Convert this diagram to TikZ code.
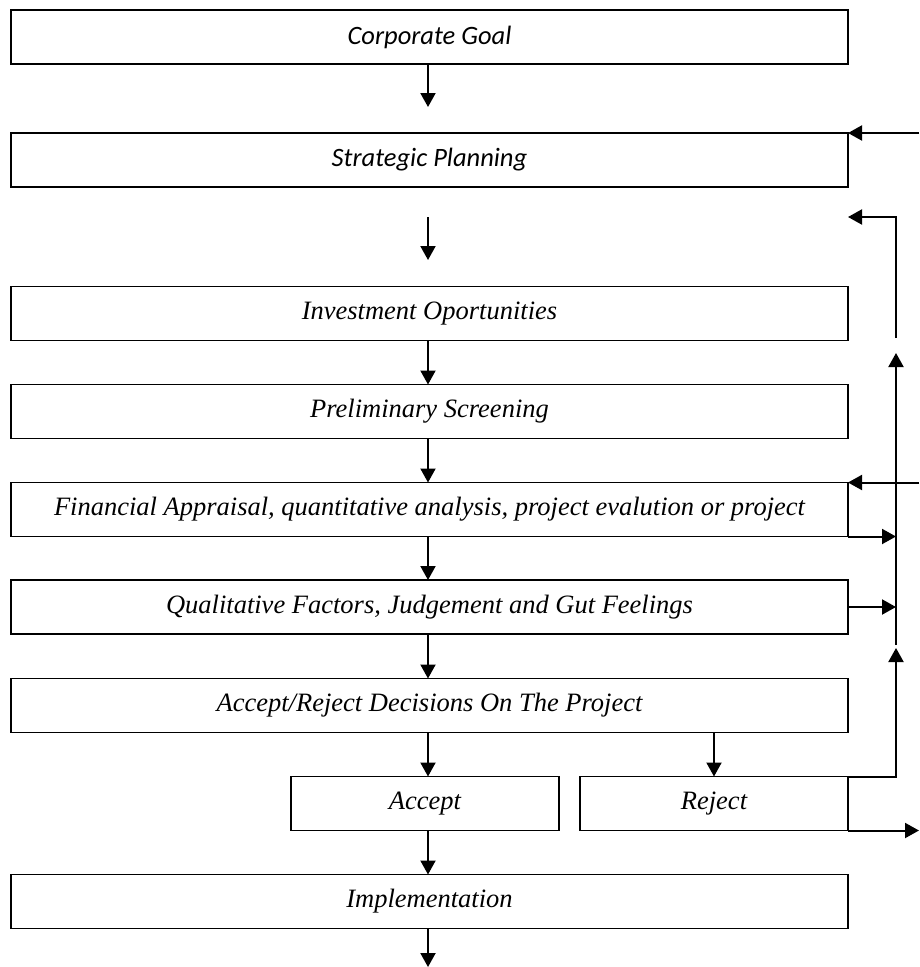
\documentclass[tikz,border=0pt]{standalone}
\usepackage{fontspec}
\usetikzlibrary{arrows.meta}
\newfontfamily\calibrifont{Carlito}
\newfontfamily\timesfont{Liberation Serif}
\tikzset{stagebox/.style = {draw, line width=1.5pt, minimum width=837pt,
                            minimum height=54pt, inner sep=0pt, outer sep=0pt,
                            font=\timesfont\itshape\fontsize{26.5}{31}\selectfont},
         goalbox/.style = {stagebox, font=\calibrifont\itshape\fontsize{26.5}{31}\selectfont},
         halfbox/.style = {stagebox, minimum width=268pt},
         flow/.style = {-{Triangle[length=14pt,width=15pt]}, line width=2pt}}

\begin{document}
\begin{tikzpicture}[x=1pt, y=-1pt]
      \useasboundingbox (0, 0) rectangle (919, 967);

      \node [goalbox] (corp) at (429.5, 37) {Corporate Goal};
      \node [goalbox] (strat) at (429.5, 160) {Strategic Planning};
      \node [stagebox] (invest) at (429.5, 313.5) {Investment Oportunities};
      \node [stagebox] (prelim) at (429.5, 411.5) {Preliminary Screening};
      \node [stagebox] (fin) at (429.5, 509.5) {Financial Appraisal, quantitative analysis, project evalution or project};
      \node [stagebox] (qual) at (429.5, 607) {Qualitative Factors, Judgement and Gut Feelings};
      \node [stagebox] (decide) at (429.5, 705.5) {Accept/Reject Decisions On The Project};
      \node [halfbox] (accept) at (425, 803.5) {Accept};
      \node [halfbox] (reject) at (714, 803.5) {Reject};
      \node [stagebox] (impl) at (429.5, 901.5) {Implementation};

      \coordinate (goaltip) at (428, 107);
      \coordinate (gaptop) at (428, 217);
      \coordinate (gaptip) at (428, 260);
      \coordinate (outlet) at (428, 967);
      \coordinate (edge) at (919, 0);
      \coordinate (retfoot) at (896, 338);
      \coordinate (rettip) at (848, 217);
      \coordinate (railtop) at (896, 353);
      \coordinate (railmid) at (896, 645);
      \coordinate (railjoin) at (896, 648);

      % main line
      \draw [flow] (corp.south -| goaltip) -- (goaltip);
      \draw [flow] (gaptop) -- (gaptip);
      \draw [flow] (invest.south -| gaptop) -- (prelim.north -| gaptop);
      \draw [flow] (prelim.south -| gaptop) -- (fin.north -| gaptop);
      \draw [flow] (fin.south -| gaptop) -- (qual.north -| gaptop);
      \draw [flow] (qual.south -| gaptop) -- (decide.north -| gaptop);
      \draw [flow] (decide.south -| gaptop) -- (accept.north -| gaptop);
      \draw [flow] (decide.south -| reject.north) -- (reject.north);
      \draw [flow] (accept.south -| gaptop) -- (impl.north -| gaptop);
      \draw [flow] (impl.south -| outlet) -- (outlet);

      % feedback on the right
      \draw [flow] (strat.north east -| edge) -- (strat.north east);
      \draw [flow] (retfoot) |- (rettip);
      \draw [flow] (railmid) -- (railtop);
      \draw [flow] (fin.north east -| edge) -- (fin.north east);
      \draw [flow] (fin.south east) -- (fin.south east -| railtop);
      \draw [flow] (qual.east) -- (qual.east -| railtop);
      \draw [flow] (reject.north east) -| (railjoin);
      \draw [flow] (reject.south east) -- (reject.south east -| edge);
    \end{tikzpicture}
\end{document}
